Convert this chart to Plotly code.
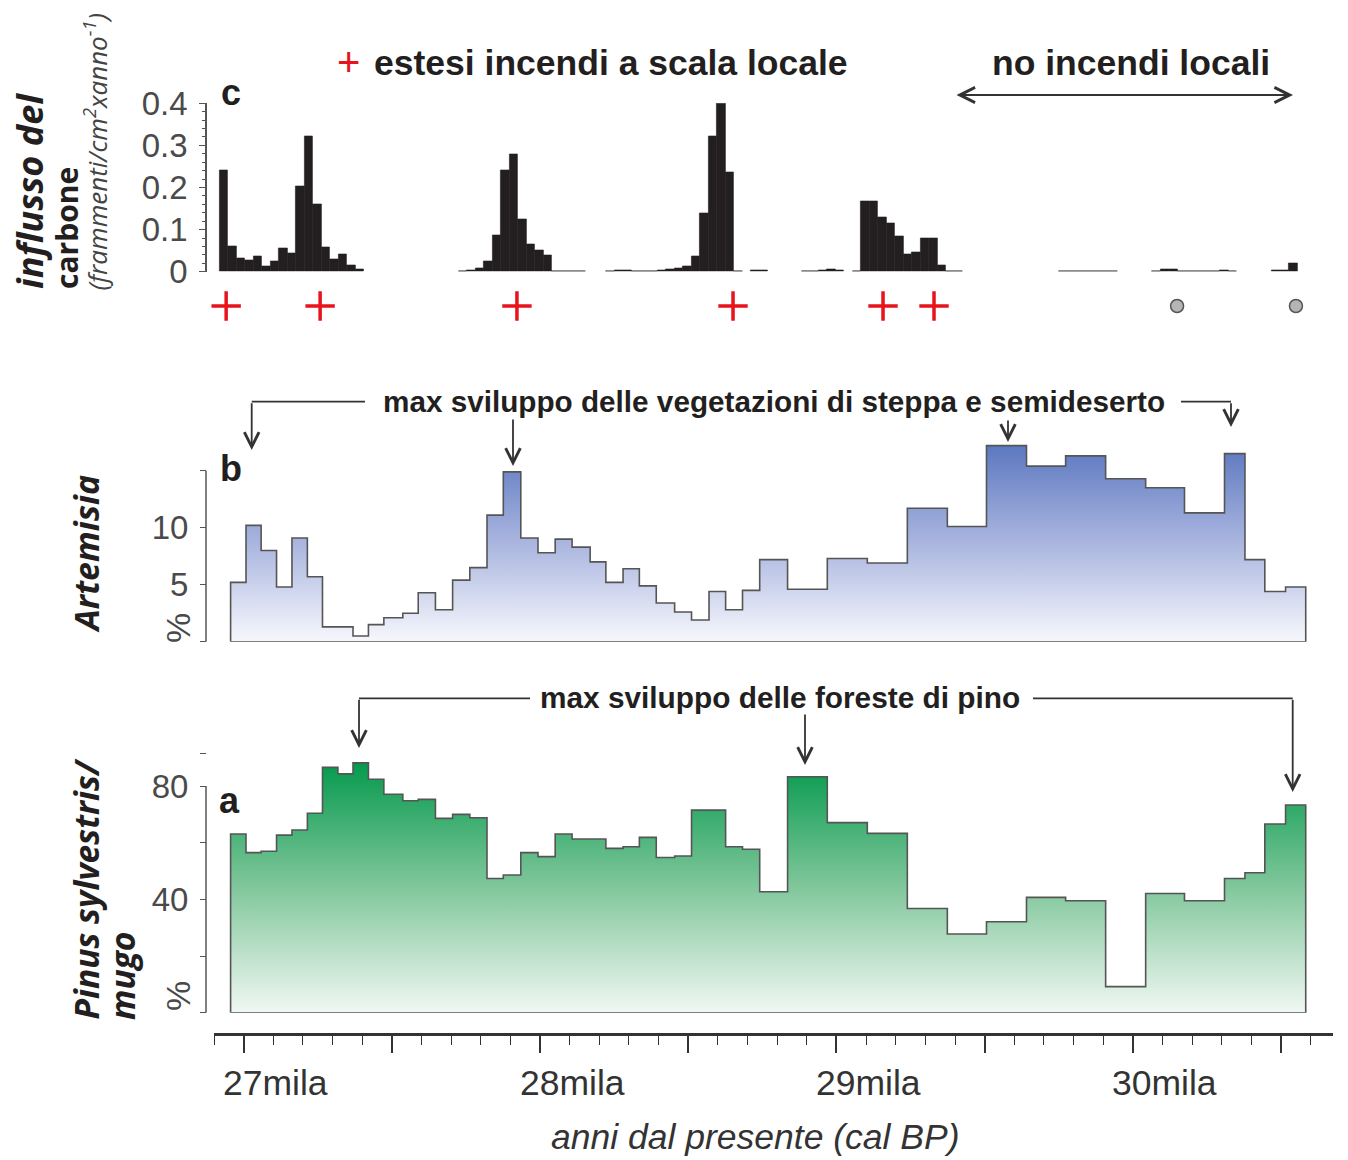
import plotly.graph_objects as go

W, H = 1348, 1160

def px_x(p):
    return p / W

def px_y(p):
    return 1 - p / H

# ---------------- DATA ----------------
# pollen sample boundaries (cal BP)
pollen_edges = [26956, 27008, 27059, 27111, 27163, 27215, 27266, 27318, 27369, 27421,
                27473, 27537, 27589, 27647, 27705, 27763, 27821, 27876, 27935, 27993,
                28051, 28108, 28169, 28222, 28280, 28335, 28392, 28454, 28511, 28570,
                28626, 28683, 28741, 28835, 28969, 29104, 29239, 29374, 29506, 29641,
                29773, 29908, 30043, 30174, 30309, 30378, 30445, 30515, 30583]

artemisia_pct = [5.2, 10.2, 8.0, 4.8, 9.1, 5.7, 1.3, 1.3, 0.5, 1.5,
                 2.1, 2.5, 4.3, 2.8, 5.4, 6.5, 11.1, 14.9, 9.1, 7.8,
                 9.0, 8.3, 7.0, 5.2, 6.4, 4.9, 3.4, 2.6, 1.9, 4.4,
                 2.8, 4.5, 7.2, 4.6, 7.3, 6.9, 11.7, 10.1, 17.2, 15.4,
                 16.3, 14.3, 13.5, 11.3, 16.5, 7.2, 4.4, 4.8]

pinus_pct = [63.1, 56.5, 57.0, 62.7, 64.5, 70.4, 86.6, 84.3, 88.2, 82.4,
             77.1, 74.8, 75.3, 68.6, 70.0, 68.8, 47.4, 48.6, 56.5, 55.1,
             63.1, 61.3, 61.3, 58.0, 58.6, 61.9, 54.8, 55.3, 71.5, 71.5,
             58.6, 57.7, 42.7, 83.3, 67.1, 63.3, 36.8, 27.8, 32.1, 40.7,
             39.5, 9.2, 42.1, 39.5, 47.4, 49.4, 66.6, 73.3]

# charcoal influx: contiguous runs of samples (start age of run, values)
charcoal_bin_years = 28.7
charcoal_run_starts = [26918, 27724, 28223, 28709, 28881, 29054, 29749, 30064, 30469]
charcoal_run_values = [
    [0.240, 0.061, 0.032, 0.028, 0.037, 0.012, 0.024, 0.056, 0.044, 0.202, 0.321, 0.159,
     0.059, 0.030, 0.042, 0.016, 0.006],
    [0.001, 0.004, 0.007, 0.024, 0.087, 0.242, 0.278, 0.125, 0.066, 0.052, 0.040, 0.002,
     0.002, 0.002, 0.002],
    [0.002, 0.004, 0.003, 0.001, 0.001, 0.001, 0.003, 0.005, 0.008, 0.014, 0.036, 0.139,
     0.321, 0.400, 0.236, 0.002],
    [0.004, 0.004],
    [0.001, 0.001, 0.003, 0.005, 0.004],
    [0.002, 0.167, 0.167, 0.129, 0.114, 0.085, 0.042, 0.047, 0.080, 0.080, 0.016, 0.002, 0.002],
    [0.002, 0.002, 0.002, 0.002, 0.002, 0.002, 0.002],
    [0.002, 0.005, 0.005, 0.002, 0.002, 0.002, 0.002, 0.002, 0.003, 0.002],
    [0.003, 0.003, 0.020],
]

fire_event_ages = [26941, 27258, 27922, 28651, 29157, 29329]
no_fire_ages = [30149, 30550]

major_ticks = [27000, 27500, 28000, 28500, 29000, 29500, 30000, 30500]
tick_labels = ["27mila", "28mila", "29mila", "30mila"]
tick_label_ages = [27000, 28000, 29000, 30000]

# ---------------- FIGURE ----------------
fig = go.Figure()

# charcoal bars
bar_x, bar_y = [], []
for start, vals in zip(charcoal_run_starts, charcoal_run_values):
    for i, v in enumerate(vals):
        bar_x.append(start + (i + 0.5) * charcoal_bin_years)
        bar_y.append(v)
fig.add_trace(go.Bar(x=bar_x, y=bar_y, width=[charcoal_bin_years] * len(bar_x),
                     marker=dict(color="#231f20", line=dict(color="#231f20", width=0.6)),
                     xaxis="x", yaxis="y", showlegend=False, hoverinfo="skip"))

# fire-event markers row (own invisible axis)
fig.add_trace(go.Scatter(x=fire_event_ages, y=[0.5] * len(fire_event_ages), mode="markers",
                         marker=dict(symbol="cross-thin", size=21, color="#e8141c",
                                     line=dict(color="#e8141c", width=3.5)),
                         cliponaxis=False, xaxis="x", yaxis="y4", showlegend=False, hoverinfo="skip"))
fig.add_trace(go.Scatter(x=no_fire_ages, y=[0.5] * len(no_fire_ages), mode="markers",
                         marker=dict(symbol="circle", size=13, color="#b5b5b5",
                                     line=dict(color="#555555", width=1.5)),
                         cliponaxis=False, xaxis="x", yaxis="y4", showlegend=False, hoverinfo="skip"))


def step_polygon(edges, vals):
    xs, ys = [edges[0]], [0]
    for i, v in enumerate(vals):
        xs += [edges[i], edges[i + 1]]
        ys += [v, v]
    xs += [edges[-1], edges[0]]
    ys += [0, 0]
    return xs, ys

xs, ys = step_polygon(pollen_edges, artemisia_pct)
fig.add_trace(go.Scatter(x=xs, y=ys, mode="lines", fill="toself",
                         fillgradient=dict(type="vertical", start=0, stop=17.5,
                                           colorscale=[[0, "#f7f7fc"], [0.5, "#a9b5df"], [1, "#5a76bf"]]),
                         line=dict(color="#555555", width=1.6),
                         xaxis="x", yaxis="y2", showlegend=False, hoverinfo="skip"))

xs, ys = step_polygon(pollen_edges, pinus_pct)
fig.add_trace(go.Scatter(x=xs, y=ys, mode="lines", fill="toself",
                         fillgradient=dict(type="vertical", start=0, stop=90,
                                           colorscale=[[0, "#f1f8f3"], [0.5, "#7fc69a"], [1, "#00984a"]]),
                         line=dict(color="#555555", width=1.6),
                         xaxis="x", yaxis="y3", showlegend=False, hoverinfo="skip"))

tickfont = dict(family="Liberation Sans, Arial, sans-serif", size=33, color="#4a4a4a")
yax_common = dict(anchor="free", position=px_x(206), ticks="outside", ticklen=6, tickwidth=1.4,
                  tickcolor="#555555", showgrid=False, zeroline=False, tickfont=tickfont,
                  ticklabelstandoff=5, fixedrange=True, automargin=False)

fig.update_layout(
    width=W, height=H,
    margin=dict(l=0, r=0, t=0, b=0, pad=0, autoexpand=False),
    paper_bgcolor="white", plot_bgcolor="rgba(0,0,0,0)",
    bargap=0,
    xaxis=dict(domain=[px_x(213.7), px_x(1332.7)], range=[26899, 30674], anchor="free",
               position=px_y(1034), showline=True, linecolor="#333333", linewidth=2.5,
               ticks="outside", tickvals=major_ticks, ticklen=17, tickwidth=1.5, tickcolor="#333333",
               showticklabels=False, showgrid=False, zeroline=False, automargin=False,
               fixedrange=True,
               minor=dict(ticks="outside", tick0=26900, dtick=100, ticklen=9, tickwidth=1.2,
                          tickcolor="#333333", showgrid=False)),
    yaxis=dict(domain=[px_y(271.7), px_y(103.3)], range=[0, 0.4], showline=True,
               linecolor="#555555", linewidth=1.5,
               tickvals=[0, 0.1, 0.2, 0.3, 0.4], ticktext=["0", "0.1", "0.2", "0.3", "0.4"],
               minor=dict(ticks="outside", dtick=0.02, ticklen=3, tickcolor="#555555", showgrid=False),
               **yax_common),
    yaxis2=dict(domain=[px_y(641.7), px_y(436.5)], range=[0, 18], showline=False,
                tickvals=[0, 5, 10, 15], ticktext=["", "5", "10", ""], **yax_common),
    yaxis3=dict(domain=[px_y(1012.7), px_y(743.6)], range=[0, 95], showline=False,
                tickvals=[0, 20, 40, 60, 80, 91.5], ticktext=["", "", "40", "", "80", ""], **yax_common),
    yaxis4=dict(domain=[px_y(326), px_y(286)], range=[0, 1], visible=False, fixedrange=True,
                anchor="free", position=px_x(206)),
)

# axis lines for panels b and a (only up to top tick)
fig.add_shape(type="line", xref="paper", yref="y2", x0=px_x(206), x1=px_x(206), y0=0, y1=15,
              line=dict(color="#555555", width=1.5))
fig.add_shape(type="line", xref="paper", yref="y3", x0=px_x(206), x1=px_x(206), y0=0, y1=80,
              line=dict(color="#555555", width=1.5))

ann = []
bold = dict(family="Liberation Sans, Arial, sans-serif", color="#231f20")
narrow = "Liberation Sans Narrow, Arial Narrow, Liberation Sans, Arial, sans-serif"

def text_ann(text, x, y, font):
    return dict(x=px_x(x), y=px_y(y), xref="paper", yref="paper", text=text, showarrow=False,
                xanchor="center", yanchor="middle", font=font)

# x tick labels
for age, lab in zip(tick_label_ages, tick_labels):
    ann.append(dict(x=age, xref="x", y=px_y(1083), yref="paper", text=lab, showarrow=False,
                    xanchor="center", yanchor="middle", xshift=32,
                    font=dict(family=narrow, size=35.5, color="#333333")))
ann.append(text_ann("<i>anni dal presente (cal BP)</i>", 755, 1137,
                    dict(family=narrow, size=35.5, color="#333333")))

# panel letters
for letter, x, y in [("c", 231, 92), ("b", 231, 468), ("a", 229, 800)]:
    ann.append(text_ann("<b>%s</b>" % letter, x, y, dict(size=36, **bold)))

# titles at top
ann.append(text_ann("+", 349, 62, dict(family="Liberation Sans, Arial, sans-serif", size=40,
                                        color="#e8141c")))
ann.append(text_ann("<b>estesi incendi a scala locale</b>", 611, 63, dict(size=35.5, **bold)))
ann.append(text_ann("<b>no incendi locali</b>", 1131, 63, dict(size=35.5, **bold)))
ann.append(dict(x=px_x(1293), y=px_y(95), xref="paper", yref="paper", text="",
                ax=-(1293 - 955), ay=0, axref="pixel", ayref="pixel", showarrow=True,
                arrowside="end+start", arrowhead=5, startarrowhead=5, arrowsize=1.5,
                startarrowsize=1.5, arrowwidth=2, arrowcolor="#333333"))

# middle annotation (steppa)
ann.append(text_ann("<b>max sviluppo delle vegetazioni di steppa e semideserto</b>", 774, 401,
                    dict(size=29.7, **bold)))
# lower annotation (pino)
ann.append(text_ann("<b>max sviluppo delle foreste di pino</b>", 780, 697, dict(size=29.8, **bold)))

def arrow(x, y_tail, y_head):
    return dict(x=px_x(x), y=px_y(y_head), xref="paper", yref="paper", text="",
                ax=0, ay=-(y_head - y_tail), axref="pixel", ayref="pixel", showarrow=True,
                arrowhead=5, arrowsize=1.6, arrowwidth=1.8, arrowcolor="#333333")

ann += [arrow(251.7, 401.7, 450), arrow(513, 418, 466), arrow(1008, 419, 442),
        arrow(1231, 401.7, 427), arrow(359, 698.3, 748), arrow(805, 713, 765),
        arrow(1292.7, 698.3, 792)]

for (x0, x1, y) in [(251.7, 365, 401.7), (1181, 1231, 401.7), (359, 530, 698.3), (1033, 1292.7, 698.3)]:
    fig.add_shape(type="line", xref="paper", yref="paper", x0=px_x(x0), x1=px_x(x1),
                  y0=px_y(y), y1=px_y(y), line=dict(color="#333333", width=1.8))

# y labels (rotated)
lab_font = "Open Sans, Liberation Sans, Arial, sans-serif"
def vlabel(text, x, y_bottom, size, color="#231f20"):
    return dict(x=px_x(x), y=px_y(y_bottom), xref="paper", yref="paper", text=text,
                showarrow=False, textangle=-90, xanchor="center", yanchor="bottom",
                font=dict(family=lab_font, size=size, color=color))

ann += [vlabel("<b><i>influsso del</i></b>", 30, 291, 36),
        vlabel("<b>carbone</b>", 67, 291, 30),
        vlabel("<i>(frammenti/cm<sup>2</sup>xanno<sup>-1</sup>)</i>", 97, 293, 26, "#444444"),
        vlabel("<b><i>Artemisia</i></b>", 85, 636, 34),
        vlabel("<b><i>Pinus sylvestris/</i></b>", 85, 1022, 33.6),
        vlabel("<b><i>mugo</i></b>", 122, 1022, 33.6)]

# % signs
for yb in [645, 1013]:
    ann.append(dict(x=px_x(178), y=px_y(yb), xref="paper", yref="paper", text="%", showarrow=False,
                    textangle=-90, xanchor="center", yanchor="bottom",
                    font=dict(family="Liberation Sans, Arial, sans-serif", size=34, color="#4a4a4a")))

fig.update_layout(annotations=ann)
fig.write_html("out.html", config={"displayModeBar": False},
               post_script="document.body.style.margin='0';")
